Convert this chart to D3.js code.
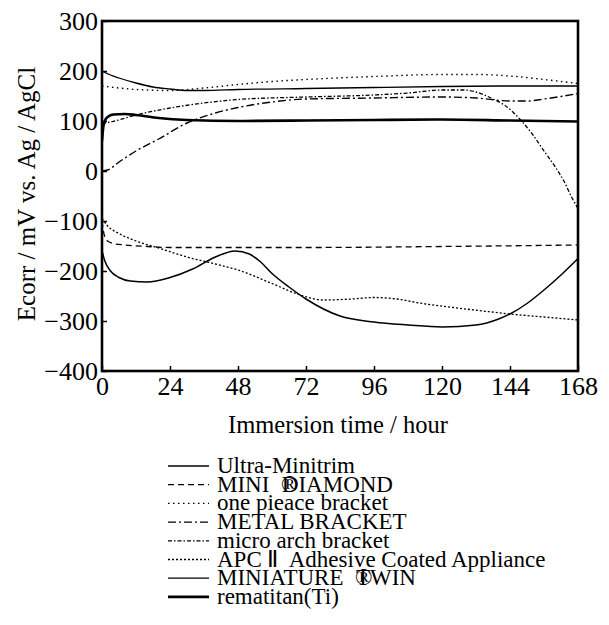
<!DOCTYPE html>
<html>
<head>
<meta charset="utf-8">
<script src="https://cdn.jsdelivr.net/npm/d3@7"></script>
<style>
  body { margin: 0; background: #fff; }
  svg text { font-family: "Liberation Serif", "Times New Roman", serif; fill: #000; }
</style>
</head>
<body>
<svg width="609" height="625"></svg>
<script>
// values (hour, mV)
var ultraT = [0, 1, 3, 6, 10, 16, 24, 32, 40, 47, 52, 56, 60, 66, 72, 84, 96, 108, 120, 132, 140, 144, 150, 156, 162, 168]
var ultraV = [-160, -180, -200, -213, -220, -222, -213, -196, -172, -160, -166, -182, -205, -232, -256, -290, -302, -308, -312, -308, -296, -286, -265, -238, -208, -175]

var diamondT = [0, 0.5, 1, 2, 4, 8, 16, 24, 72, 120, 168]
var diamondV = [-100, -120, -132, -140, -145, -148, -151, -153, -153, -151, -148]

var onepieceT = [0, 6, 12, 24, 36, 48, 60, 72, 96, 120, 132, 144, 156, 168]
var onepieceV = [170, 166, 163, 161, 166, 173, 179, 183, 189, 193, 193, 190, 183, 175]

var metalT = [0, 2, 6, 12, 20, 30, 40, 48, 60, 72, 96, 120, 132, 144, 150, 156, 162, 168]
var metalV = [0, 2, 18, 40, 64, 96, 116, 127, 138, 144, 146, 148, 146, 140, 140, 144, 149, 155]

var microT = [0, 3, 12, 24, 36, 48, 72, 96, 108, 120, 128, 132, 135, 138, 142, 145, 149, 152, 156, 160, 163, 166, 168]
var microV = [95, 98, 112, 126, 136, 143, 148, 152, 156, 162, 162, 158, 152, 144, 132, 118, 94, 73, 40, 8, -20, -55, -75]

var apcT = [0, 2, 6, 12, 20, 30, 40, 48, 60, 70, 78, 88, 96, 104, 112, 124, 136, 144, 156, 168]
var apcV = [-95, -110, -125, -140, -154, -172, -186, -198, -225, -248, -258, -256, -253, -256, -264, -273, -281, -286, -292, -298]

var twinT = [0, 3, 6, 12, 18, 24, 30, 36, 48, 72, 96, 120, 144, 168]
var twinV = [200, 192, 186, 176, 168, 164, 161, 161, 163, 165, 167, 169, 170, 170]

var remaT = [0, 0.5, 1, 2, 4, 8, 12, 20, 30, 48, 72, 96, 120, 144, 168]
var remaV = [60, 90, 100, 108, 113, 114, 112, 106, 102, 100, 101, 102, 103, 101, 99]

var names = ["Ultra-Minitrim", "MINI DIAMOND", "one pieace bracket", "METAL BRACKET",
  "micro arch bracket", "APC Ⅱ\u00a0 Adhesive Coated Appliance", "MINIATURE TWIN", "rematitan(Ti)"]

var xTicks = [0, 24, 48, 72, 96, 120, 144, 168]
var yTicks = [-400, -300, -200, -100, 0, 100, 200, 300]

var series = [
  {name: names[0], t: ultraT, v: ultraV, w: 1.5, dash: null},
  {name: names[1], t: diamondT, v: diamondV, w: 1.3, dash: "6,4"},
  {name: names[2], t: onepieceT, v: onepieceV, w: 1.4, dash: "1.5,3.5"},
  {name: names[3], t: metalT, v: metalV, w: 1.4, dash: "8,3,2,3"},
  {name: names[4], t: microT, v: microV, w: 1.3, dash: "4,2,1.5,2"},
  {name: names[5], t: apcT, v: apcV, w: 1.3, dash: "2,2"},
  {name: names[6], t: twinT, v: twinV, w: 1.3, dash: null},
  {name: names[7], t: remaT, v: remaV, w: 2.6, dash: null}
]

var svg = d3.select("svg")
var pLeft = 102, pRight = 578, pTop = 21, pBottom = 371

var x = d3.scaleLinear().domain([0, 168]).range([pLeft, pRight])
var y = d3.scaleLinear().domain([-400, 300]).range([pBottom, pTop])

var line = d3.line()
  .x(d => x(d[0]))
  .y(d => y(d[1]))
  .curve(d3.curveMonotoneX)

var clip = svg.append("defs").append("clipPath").attr("id", "plot")
clip.append("rect").attr("x", pLeft).attr("y", pTop).attr("width", pRight - pLeft).attr("height", pBottom - pTop)

var lines = svg.append("g").attr("clip-path", "url(#plot)")
series.forEach(function(s) {
  var pts = s.t.map((h, i) => [h, s.v[i]])
  lines.append("path")
    .attr("d", line(pts))
    .attr("fill", "none")
    .attr("stroke", "#000")
    .attr("stroke-width", s.w)
    .attr("stroke-dasharray", s.dash)
})

// axes, ticks pointing inward
var xAxis = svg.append("g")
  .attr("transform", `translate(0,${pBottom})`)
  .call(d3.axisBottom(x).tickValues(xTicks).tickSize(-5).tickPadding(5))
var yAxis = svg.append("g")
  .attr("transform", `translate(${pLeft},0)`)
  .call(d3.axisLeft(y).tickValues(yTicks).tickSize(-5).tickPadding(4))

svg.selectAll(".domain").remove()
svg.selectAll(".tick line").attr("stroke", "#000").attr("stroke-width", 1.5)
svg.selectAll(".tick text")
  .style("font-family", '"Liberation Serif", serif')
  .style("font-size", "26px")
  .attr("fill", "#000")
xAxis.selectAll(".tick text").attr("dy", "0.72em")

svg.append("rect")
  .attr("x", pLeft).attr("y", pTop)
  .attr("width", pRight - pLeft).attr("height", pBottom - pTop)
  .attr("fill", "none").attr("stroke", "#000").attr("stroke-width", 2.6)

svg.append("text")
  .attr("x", 338)
  .attr("y", 433)
  .attr("text-anchor", "middle")
  .style("font-size", "24.5px")
  .text("Immersion time / hour")

svg.append("text")
  .attr("transform", "translate(35,194) rotate(-90)")
  .attr("text-anchor", "middle")
  .style("font-size", "25px")
  .text("Ecorr / mV vs. Ag / AgCl")

// legend
var legend = svg.append("g")
series.forEach(function(s, i) {
  var ly = 466 + i * 18.7
  legend.append("line")
    .attr("x1", 168).attr("x2", 209)
    .attr("y1", ly).attr("y2", ly)
    .attr("stroke", "#000")
    .attr("stroke-width", s.w)
    .attr("stroke-dasharray", s.dash)
  var t = legend.append("text")
    .attr("x", 217).attr("y", ly + 7)
    .style("font-size", "23px")
  if (i == 1 || i == 6) {
    var parts = s.name.split(" ")
    t.append("tspan").text(parts[0] + "\u00a0 ")
    t.append("tspan").text("®")
    t.append("tspan").attr("dx", "-0.72em").text(parts[1])
  } else {
    t.text(s.name)
  }
})
</script>
</body>
</html>
